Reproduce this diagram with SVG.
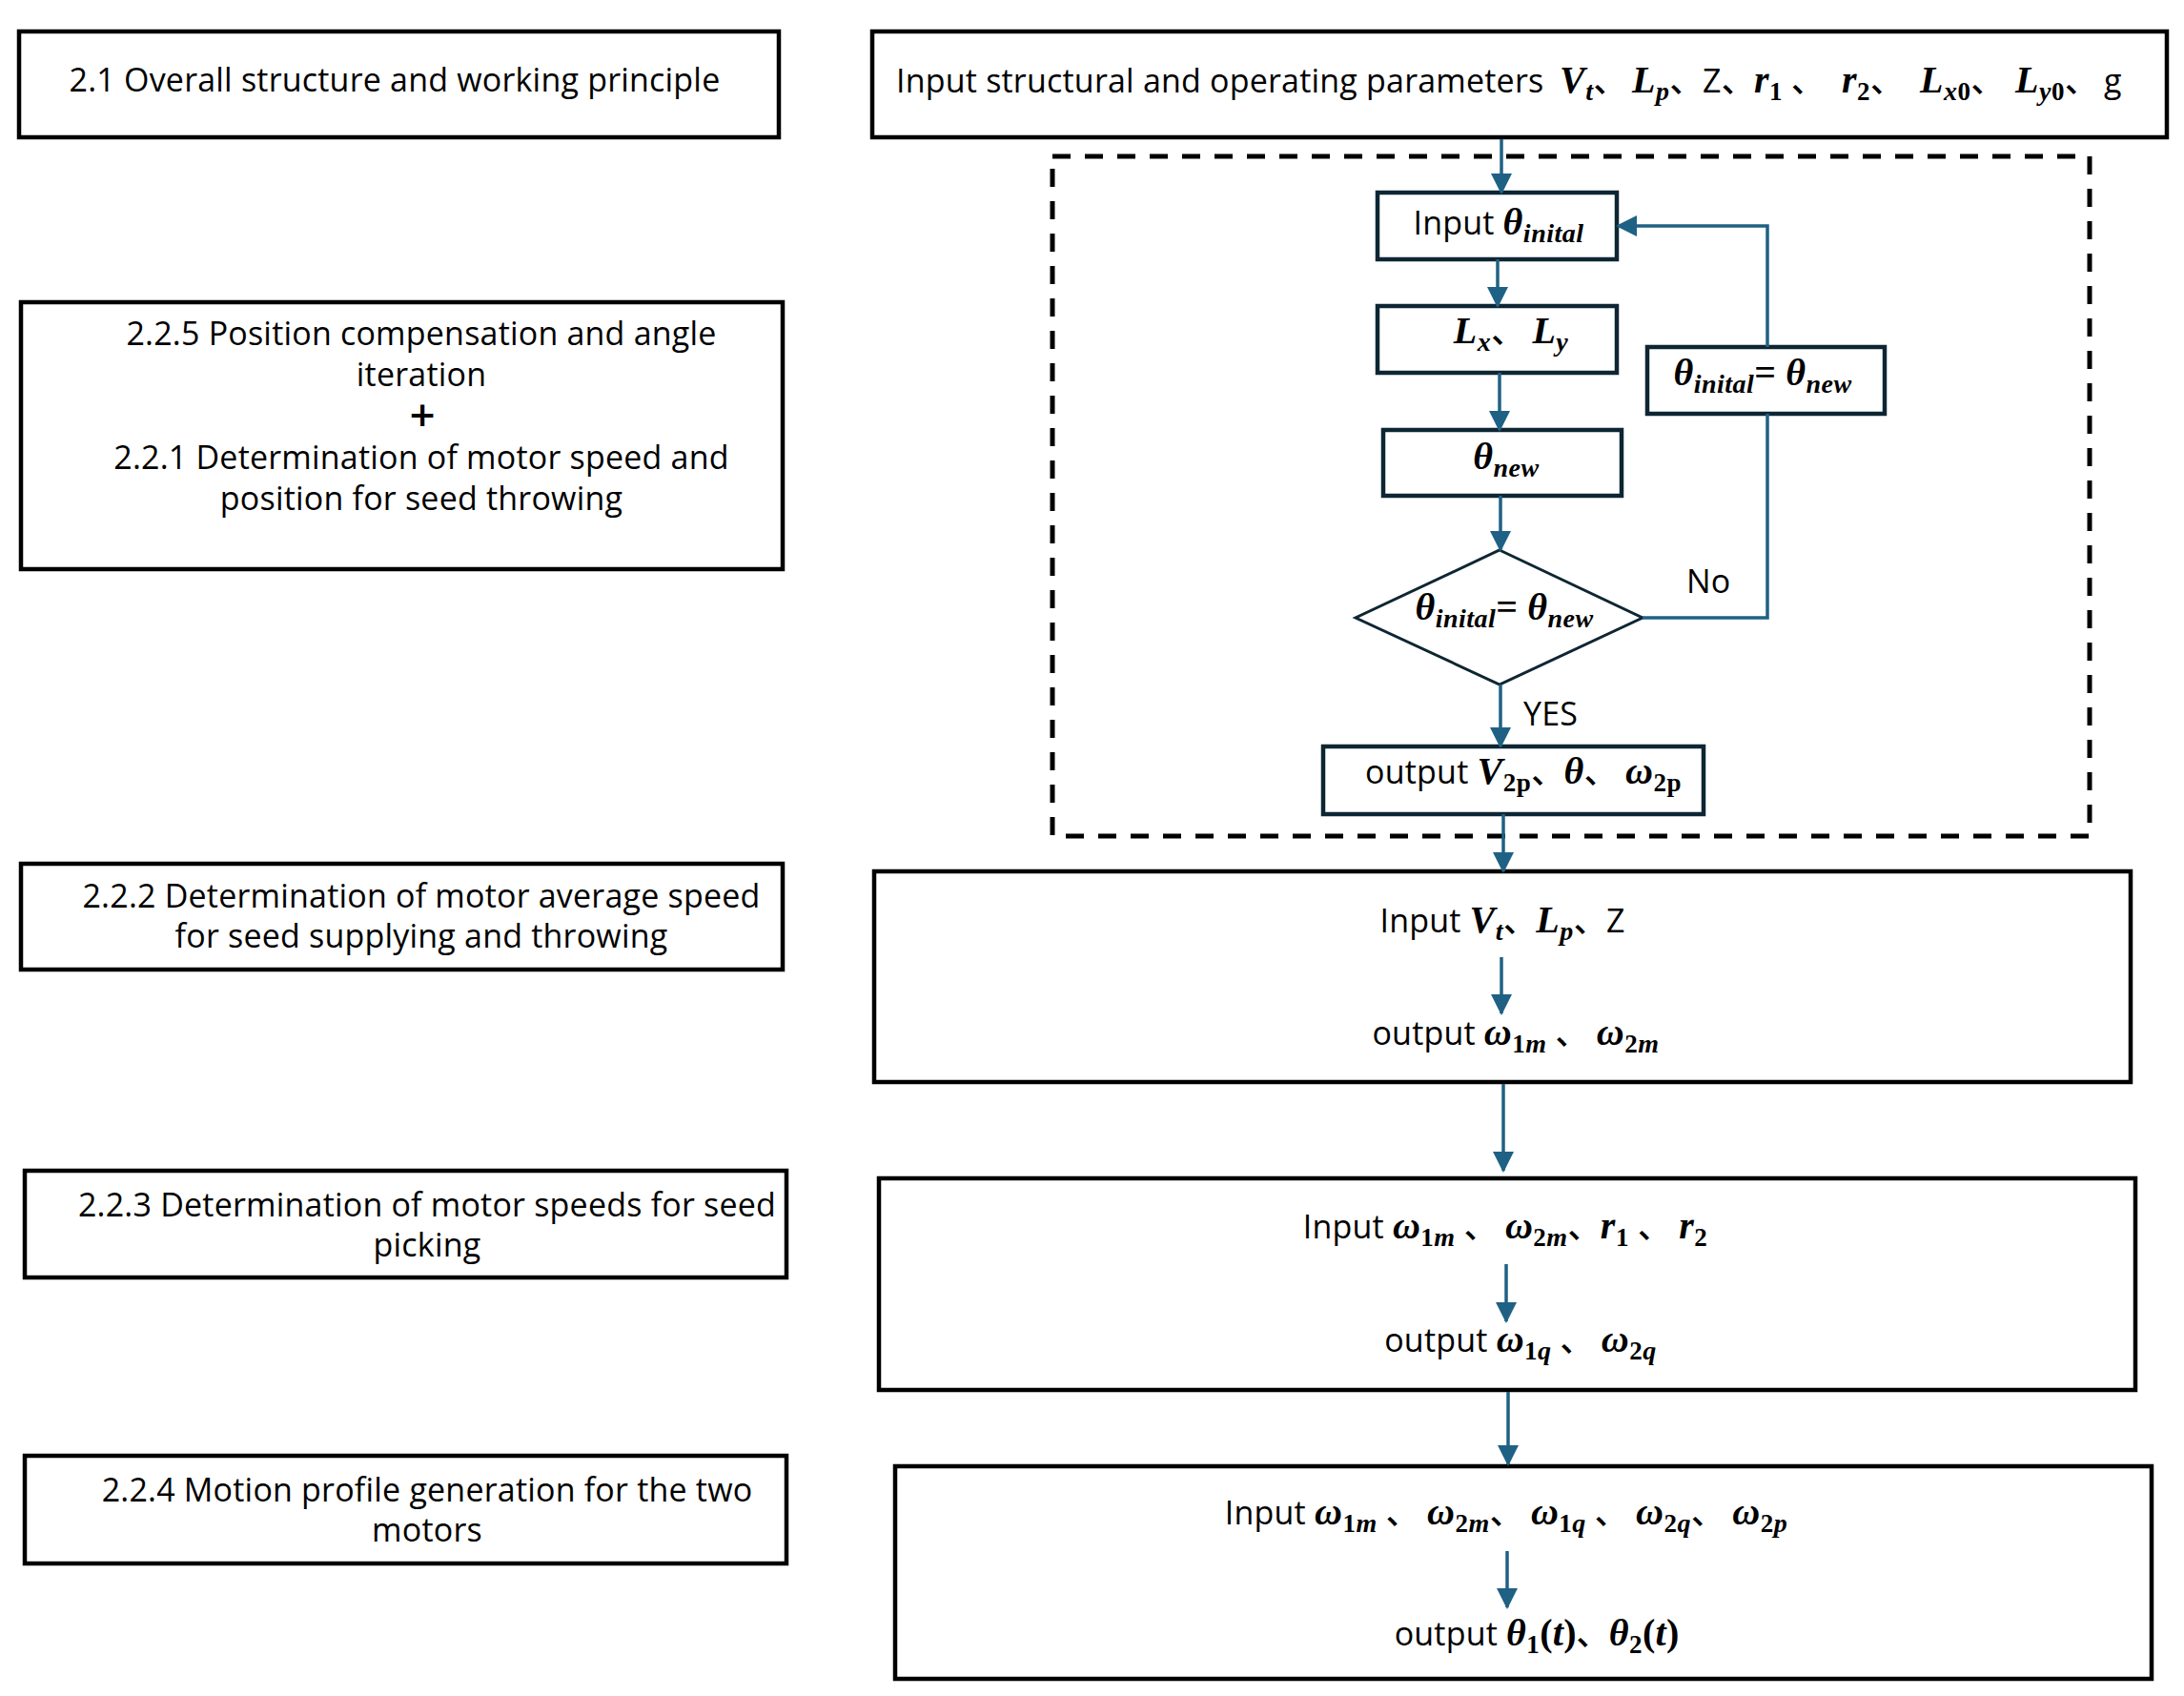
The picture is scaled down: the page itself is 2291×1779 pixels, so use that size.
<svg xmlns="http://www.w3.org/2000/svg" width="2291" height="1779" viewBox="0 0 2291 1779">
<style>
.box{fill:#fff;stroke:#000;stroke-width:4.5}
.ibox{fill:#fff;stroke:#0e2633;stroke-width:4.5}
.dia{fill:#fff;stroke:#0e2633;stroke-width:3}
.dash{fill:none;stroke:#000;stroke-width:5;stroke-dasharray:19 15}
.con{fill:none;stroke:#1f6184;stroke-width:3.5}
.t{font-family:"Open Sans","Noto Sans","Noto Sans CJK SC",sans-serif;font-size:34px;font-weight:500;letter-spacing:0.2px;fill:#000}
.c{text-anchor:middle}
.m{font-family:"Liberation Serif","Noto Sans CJK SC",serif;font-style:italic;font-weight:bold;font-size:40px;letter-spacing:0.5px}
.s{font-family:"Liberation Serif",serif;font-style:italic;font-weight:bold;font-size:28px;letter-spacing:0.5px}
.d{font-family:"Liberation Serif",serif;font-style:normal;font-weight:bold;font-size:27px;letter-spacing:0.5px}
.p{font-family:"Liberation Serif",serif;font-style:normal;font-weight:bold;font-size:40px;letter-spacing:0}
</style>
<defs>
<marker id="ah" markerUnits="userSpaceOnUse" markerWidth="22" markerHeight="22" viewBox="0 0 22 22" refX="20" refY="11" orient="auto">
<path d="M0,0 L22,11 L0,22 Z" fill="#1f6184"/>
</marker>
</defs>

<g id="left-2-1">
<rect class="box" x="20" y="33" width="797" height="111"/>
<text class="t c" x="414" y="96">2.1 Overall structure and working principle</text>
</g>
<g id="left-2-2-5">
<rect class="box" x="22" y="317" width="799" height="280"/>
<text class="t c" x="442" y="362">2.2.5 Position compensation and angle</text>
<text class="t c" x="442" y="405">iteration</text>
<text class="c" x="443" y="447" style="font-family:'DejaVu Sans',sans-serif;font-weight:900;font-size:36px">+</text>
<text class="t c" x="442" y="492">2.2.1 Determination of motor speed and</text>
<text class="t c" x="442" y="535">position for seed throwing</text>
</g>
<g id="left-2-2-2">
<rect class="box" x="22" y="906" width="799" height="111"/>
<text class="t c" x="442" y="952">2.2.2 Determination of motor average speed</text>
<text class="t c" x="442" y="994">for seed supplying and throwing</text>
</g>
<g id="left-2-2-3">
<rect class="box" x="26" y="1228" width="799" height="112"/>
<text class="t c" x="448" y="1276">2.2.3 Determination of motor speeds for seed</text>
<text class="t c" x="448" y="1318">picking</text>
</g>
<g id="left-2-2-4">
<rect class="box" x="26" y="1527" width="799" height="113"/>
<text class="t c" x="448" y="1575">2.2.4 Motion profile generation for the two</text>
<text class="t c" x="448" y="1617">motors</text>
</g>

<g id="input-params">
<rect class="box" x="915" y="33" width="1358" height="111"/>
<text class="t" x="940" y="97">Input structural and operating parameters <tspan class="m" x="1636">V</tspan><tspan class="s" dy="8">t</tspan><tspan dy="-8">、</tspan><tspan class="m" x="1712">L</tspan><tspan class="s" dy="8">p</tspan><tspan dy="-8">、</tspan><tspan x="1786">Z、</tspan><tspan class="m" x="1840">r</tspan><tspan class="d" dy="8">1</tspan><tspan dy="-8"> 、 </tspan><tspan class="m" x="1932">r</tspan><tspan class="d" dy="8">2</tspan><tspan dy="-8">、 </tspan><tspan class="m" x="2014">L</tspan><tspan class="s" dy="8">x</tspan><tspan class="d">0</tspan><tspan dy="-8">、 </tspan><tspan class="m" x="2114">L</tspan><tspan class="s" dy="8">y</tspan><tspan class="d">0</tspan><tspan dy="-8">、</tspan><tspan x="2207">g</tspan></text>
</g>

<g id="iteration-region">
<rect class="dash" x="1104" y="164" width="1088" height="713"/>
</g>

<g id="input-theta">
<rect class="ibox" x="1445" y="202" width="251" height="70"/>
<text class="t c" x="1572" y="246">Input <tspan class="m">θ</tspan><tspan class="s" dy="8">inital</tspan></text>
</g>
<g id="lx-ly">
<rect class="ibox" x="1445" y="321" width="251" height="70"/>
<text class="t c" x="1585" y="360"><tspan class="m">L</tspan><tspan class="s" dy="8">x</tspan><tspan dy="-8">、 </tspan><tspan class="m">L</tspan><tspan class="s" dy="8">y</tspan></text>
</g>
<g id="theta-new">
<rect class="ibox" x="1451" y="451" width="250" height="69"/>
<text class="t c" x="1580" y="492"><tspan class="m">θ</tspan><tspan class="s" dy="8">new</tspan></text>
</g>
<g id="check">
<polygon class="dia" points="1573,577 1723,648 1573,718 1422,648"/>
<text class="t c" x="1578" y="650"><tspan class="m">θ</tspan><tspan class="s" dy="8">inital</tspan><tspan class="p" dy="-8">= </tspan><tspan class="m">θ</tspan><tspan class="s" dy="8">new</tspan></text>
</g>
<g id="update">
<rect class="ibox" x="1728" y="364" width="249" height="70"/>
<text class="t c" x="1849" y="404"><tspan class="m">θ</tspan><tspan class="s" dy="8">inital</tspan><tspan class="p" dy="-8">= </tspan><tspan class="m">θ</tspan><tspan class="s" dy="8">new</tspan></text>
</g>
<g id="output-throw">
<rect class="ibox" x="1388" y="783" width="399" height="71"/>
<text class="t c" x="1598" y="822">output <tspan class="m">V</tspan><tspan class="d" dy="8">2p</tspan><tspan dy="-8">、</tspan><tspan class="m">θ</tspan><tspan>、 </tspan><tspan class="m">ω</tspan><tspan class="d" dy="8">2p</tspan></text>
</g>

<g id="avg-speed">
<rect class="box" x="917" y="914" width="1318" height="221"/>
<text class="t c" x="1576" y="978">Input  <tspan class="m">V</tspan><tspan class="s" dy="8">t</tspan><tspan dy="-8">、</tspan><tspan class="m">L</tspan><tspan class="s" dy="8">p</tspan><tspan dy="-8">、Z</tspan></text>
<text class="t c" x="1590" y="1096">output <tspan class="m">ω</tspan><tspan class="d" dy="8">1</tspan><tspan class="s">m</tspan><tspan dy="-8"> 、 </tspan><tspan class="m">ω</tspan><tspan class="d" dy="8">2</tspan><tspan class="s">m</tspan></text>
</g>
<g id="pick-speed">
<rect class="box" x="922" y="1236" width="1318" height="222"/>
<text class="t c" x="1579" y="1299">Input <tspan class="m">ω</tspan><tspan class="d" dy="8">1</tspan><tspan class="s">m</tspan><tspan dy="-8"> 、 </tspan><tspan class="m">ω</tspan><tspan class="d" dy="8">2</tspan><tspan class="s">m</tspan><tspan dy="-8">、</tspan><tspan class="m">r</tspan><tspan class="d" dy="8">1</tspan><tspan dy="-8"> 、 </tspan><tspan class="m">r</tspan><tspan class="d" dy="8">2</tspan></text>
<text class="t c" x="1595" y="1418">output <tspan class="m">ω</tspan><tspan class="d" dy="8">1</tspan><tspan class="s">q</tspan><tspan dy="-8"> 、 </tspan><tspan class="m">ω</tspan><tspan class="d" dy="8">2</tspan><tspan class="s">q</tspan></text>
</g>
<g id="profile">
<rect class="box" x="939" y="1538" width="1318" height="223"/>
<text class="t c" x="1580" y="1599">Input <tspan class="m">ω</tspan><tspan class="d" dy="8">1</tspan><tspan class="s">m</tspan><tspan dy="-8"> 、 </tspan><tspan class="m">ω</tspan><tspan class="d" dy="8">2</tspan><tspan class="s">m</tspan><tspan dy="-8">、 </tspan><tspan class="m">ω</tspan><tspan class="d" dy="8">1</tspan><tspan class="s">q</tspan><tspan dy="-8"> 、 </tspan><tspan class="m">ω</tspan><tspan class="d" dy="8">2</tspan><tspan class="s">q</tspan><tspan dy="-8">、 </tspan><tspan class="m">ω</tspan><tspan class="d" dy="8">2</tspan><tspan class="s">p</tspan></text>
<text class="t c" x="1612" y="1726">output <tspan class="m">θ</tspan><tspan class="d" dy="8">1</tspan><tspan class="p" dy="-8">(</tspan><tspan class="m">t</tspan><tspan class="p">)</tspan><tspan>、</tspan><tspan class="m">θ</tspan><tspan class="d" dy="8">2</tspan><tspan class="p" dy="-8">(</tspan><tspan class="m">t</tspan><tspan class="p">)</tspan></text>
</g>

<g id="connectors">
<line class="con" x1="1575" y1="146" x2="1575" y2="202" marker-end="url(#ah)"/>
<line class="con" x1="1571" y1="272" x2="1571" y2="321" marker-end="url(#ah)"/>
<line class="con" x1="1573" y1="391" x2="1573" y2="451" marker-end="url(#ah)"/>
<line class="con" x1="1574" y1="520" x2="1574" y2="577" marker-end="url(#ah)"/>
<polyline class="con" points="1723,648 1854,648 1854,434"/>
<polyline class="con" points="1854,364 1854,237 1697,237" marker-end="url(#ah)"/>
<line class="con" x1="1574" y1="718" x2="1574" y2="783" marker-end="url(#ah)"/>
<line class="con" x1="1577" y1="854" x2="1577" y2="914" marker-end="url(#ah)"/>
<line class="con" x1="1575" y1="1004" x2="1575" y2="1063" marker-end="url(#ah)"/>
<line class="con" x1="1577" y1="1137" x2="1577" y2="1228" marker-end="url(#ah)"/>
<line class="con" x1="1580" y1="1326" x2="1580" y2="1386" marker-end="url(#ah)"/>
<line class="con" x1="1582" y1="1460" x2="1582" y2="1536" marker-end="url(#ah)"/>
<line class="con" x1="1581" y1="1627" x2="1581" y2="1686" marker-end="url(#ah)"/>
</g>
<g id="labels">
<text class="t" x="1769" y="622">No</text>
<text class="t" x="1598" y="761">YES</text>
</g>
</svg>
